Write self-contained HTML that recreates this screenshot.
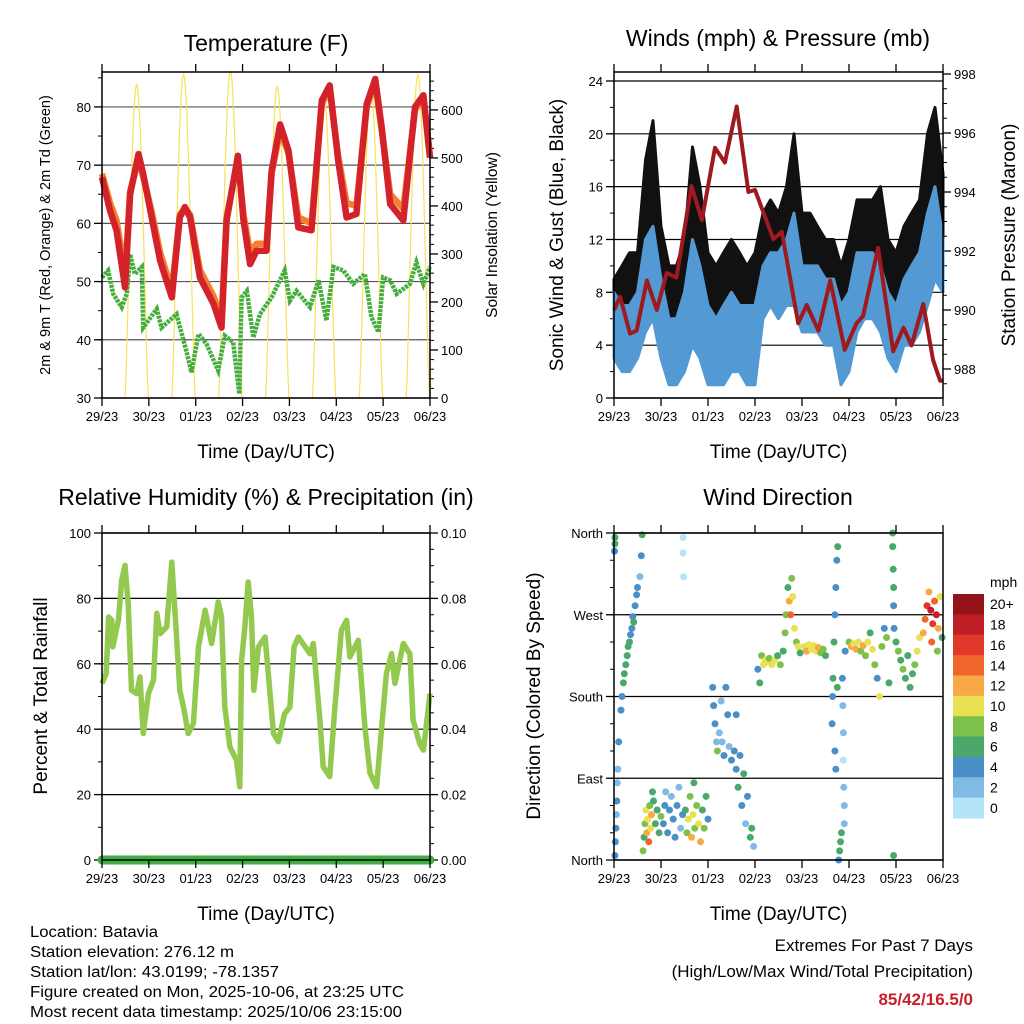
<!DOCTYPE html>
<html><head><meta charset="utf-8"><style>
html,body{margin:0;padding:0;background:#fff;}
svg{display:block;font-family:"Liberation Sans",sans-serif;}
</style></head><body>
<svg id="fig" width="1024" height="1024" viewBox="0 0 1024 1024" xmlns="http://www.w3.org/2000/svg">
<rect width="1024" height="1024" fill="#fff"/>
<g id="layer"></g>
<g font-size="15.5" fill="#000">
<text x="30" y="937" textLength="128" lengthAdjust="spacingAndGlyphs">Location: Batavia</text>
<text x="30" y="957" textLength="204" lengthAdjust="spacingAndGlyphs">Station elevation: 276.12 m</text>
<text x="30" y="977" textLength="249" lengthAdjust="spacingAndGlyphs">Station lat/lon: 43.0199; -78.1357</text>
<text x="30" y="997" textLength="374" lengthAdjust="spacingAndGlyphs">Figure created on Mon, 2025-10-06, at 23:25 UTC</text>
<text x="30" y="1017" textLength="372" lengthAdjust="spacingAndGlyphs">Most recent data timestamp: 2025/10/06 23:15:00</text>
</g>
<g text-anchor="end">
<text x="973" y="951" font-size="17">Extremes For Past 7 Days</text>
<text x="973" y="977" font-size="17">(High/Low/Max Wind/Total Precipitation)</text>
<text x="973" y="1005" font-size="17" font-weight="bold" fill="#c8202a">85/42/16.5/0</text>
</g>
</svg>
<script>
// ---------- DATA ----------
const dayLabels = ["29/23","30/23","01/23","02/23","03/23","04/23","05/23","06/23"];
// Temperature
const tempT = [0,0.17,0.31,0.46,0.49,0.6,0.78,0.88,1.06,1.24,1.49,1.66,1.77,1.88,2.09,2.38,2.55,2.66,2.9,3.02,3.16,3.3,3.51,3.62,3.8,3.98,4.19,4.47,4.69,4.86,5.04,5.22,5.43,5.65,5.83,5.97,6.15,6.43,6.68,6.86,7.0];
const temp2m = [67.9,62.2,58.8,50.7,49,65,71.9,68.5,61,53.6,47.3,61,62.8,61,50.7,46.2,42.1,60.5,71.6,60.5,53,55.3,55.3,69,77,72.5,59.3,58.8,81.1,83.7,70.8,61,61.6,80.5,84.8,76.5,63.3,60.5,80,82,71.3];
const temp9m = [68.5,63.5,60.5,53,51,65.5,71,68,62,55,48.5,61.5,62.5,61.5,52,47.5,43.5,61,70.8,61.5,55,56.5,56.5,68.5,76,72,61,60,80.5,83,71.5,63.5,63,80,84,76,65,62.5,79.5,81.5,71.5];
const dewT = [0,0.13,0.24,0.42,0.53,0.6,0.7,0.85,0.88,1.17,1.27,1.59,1.8,1.91,2.06,2.23,2.48,2.62,2.8,2.93,2.98,3.09,3.23,3.37,3.62,3.9,4.01,4.15,4.44,4.62,4.79,4.94,5.15,5.36,5.61,5.75,5.9,6.0,6.15,6.29,6.57,6.71,6.86,7.0];
const dewF = [50.7,51.9,47.9,45.6,47.9,54.7,51.3,52.5,42.1,45.3,42.1,44.4,38.1,34.4,41,39.3,34.7,40.7,39.6,30.7,47.3,48.4,40.4,44.4,47.3,51.9,46.7,48.4,45.6,50.2,43.3,52.5,51.9,49.6,51.3,43.9,41.3,50.7,50.2,47.9,49.6,53.3,49.6,52.5];
const solarPeakDay = [0,1,2,3,4,5,6];
const solarPeakWm2 = [653,674,680,649,628,643,674];
// Winds
const windT = [0,0.17,0.33,0.5,0.67,0.83,1,1.17,1.33,1.5,1.67,1.83,2,2.17,2.33,2.5,2.67,2.83,3,3.17,3.33,3.5,3.67,3.83,4,4.17,4.33,4.5,4.67,4.83,5,5.17,5.33,5.5,5.67,5.83,6,6.17,6.33,6.5,6.67,6.83,7];
const windLo = [3,2,2,3,5,6,3,1,1,2,4,3,1,1,1,2,2,1,1,6,7,6,7,7,5,5,5,4,4,1,2,5,6,6,5,3,2,4,4,5,7,9,8];
const windHi = [8,7,7,8,12,13,9,6,6,8,12,10,7,6,7,8,7,7,7,10,11,11,12,14,10,10,10,9,9,7,8,11,11,11,10,8,7,9,10,11,14,16,12];
const gustLo = [6,5,5,6,9,10,6,4,4,5,8,7,4,4,4,5,5,4,4,8,9,9,10,11,8,8,8,7,7,4,5,8,9,9,8,6,5,7,7,8,12,14,11];
const gustHi = [9,10,11,11,18,21,13,10,10,12,19,16,11,10,11,12,11,10,11,14,15,14,16,20,14,14,13,12,12,10,12,15,15,15,16,12,11,13,14,15,20,22,17];
const presT = [0,0.13,0.34,0.48,0.7,0.91,1.12,1.33,1.65,1.87,2.15,2.36,2.61,2.86,3.0,3.18,3.39,3.57,3.92,4.1,4.35,4.6,4.91,5.16,5.3,5.62,5.94,6.16,6.33,6.58,6.79,6.94,7.0];
const presMb = [990.0,990.45,989.2,989.3,991.0,990.0,991.25,991.1,994.2,993.05,995.5,995.0,996.9,994.0,994.07,993.3,992.4,992.65,989.55,990.17,989.3,991.0,988.65,989.55,989.8,992.1,988.6,989.4,988.8,990.2,988.3,987.6,987.6];
// RH
const rhT = [0,0.09,0.14,0.21,0.23,0.35,0.42,0.49,0.56,0.63,0.74,0.81,0.88,0.99,1.1,1.17,1.24,1.38,1.49,1.56,1.66,1.74,1.84,1.95,2.06,2.2,2.34,2.48,2.55,2.62,2.73,2.87,2.94,2.98,3.05,3.12,3.19,3.24,3.34,3.48,3.66,3.76,3.9,4.01,4.1,4.19,4.44,4.51,4.65,4.72,4.86,4.97,5.11,5.22,5.29,5.47,5.61,5.72,5.86,5.97,6.07,6.18,6.25,6.43,6.57,6.64,6.78,6.86,7.0];
const rhPct = [54,57,74.3,73.3,65.2,73.3,85.5,90.1,78.4,51.9,50.9,56,38.7,50.9,55,75.4,69.2,71.3,91.1,75.4,51.9,46.8,38.7,41.8,65.2,76.4,66.2,78.9,74.3,46.8,34.6,30.5,22.4,61.1,71.3,85,74.3,51.9,65.2,68.2,38.7,36.2,44.8,46.8,65.2,68.2,63.1,66.2,42.8,28.5,25.5,46.8,70.3,73.3,62.1,67.2,40.7,26.5,22.4,40.7,57,63.1,54,66.2,63.1,42.8,35.6,33.6,50.9];
const precipT = [0,7];
const precipIn = [0,0];
// Wind direction
const dirT = [0.02,0.03,0.04,0.05,0.06,0.07,0.08,0.1,0.02,0.02,0.01,
0.15,0.17,0.2,0.22,0.25,0.28,0.3,0.35,0.38,0.4,0.45,0.48,0.5,0.55,0.58,0.6,0.42,0.33,
0.62,0.64,0.66,0.68,0.7,0.72,0.74,0.76,0.78,0.8,0.84,0.88,0.92,0.96,1.0,0.82,
1.05,1.08,1.1,1.14,1.18,1.22,1.26,1.3,1.34,1.38,1.42,1.46,
1.52,1.55,1.58,1.62,1.65,1.68,1.72,1.76,1.8,1.84,1.88,1.92,1.96,2.0,1.7,
1.47,1.47,1.48,
2.1,2.12,2.15,2.18,2.2,2.24,2.28,2.3,2.34,2.38,2.42,2.45,2.5,
2.56,2.6,2.64,2.68,2.72,2.76,2.8,2.84,2.9,2.93,2.97,2.6,
3.06,3.1,3.14,3.18,3.22,3.26,3.3,3.36,3.42,3.48,3.54,3.6,3.64,
3.66,3.7,3.73,3.76,3.8,3.84,3.88,3.92,3.96,3.78,
4.05,4.1,4.15,4.2,4.25,4.3,4.35,4.4,4.45,4.5,
4.64,4.65,4.66,4.68,4.7,4.72,4.74,4.76,4.7,4.72,4.75,4.8,4.82,4.78,4.84,
4.87,4.88,4.88,4.89,4.9,4.9,4.86,4.92,
5.0,5.05,5.1,5.15,5.2,5.25,5.3,5.35,5.4,5.45,5.5,5.55,5.6,5.65,5.7,5.75,5.8,5.85,
5.93,5.93,5.94,5.95,5.95,5.96,5.95,
6.0,6.05,6.1,6.15,6.2,6.25,6.3,6.35,6.4,6.45,6.5,
6.58,6.62,6.66,6.7,6.74,6.78,6.82,6.86,6.9,6.94,6.98,6.76,6.88];
const dirDeg = [5,20,35,50,65,85,100,130,355,348,340,
165,180,195,205,215,225,235,248,255,268,280,292,300,312,335,358,262,240,
10,25,40,55,30,45,20,60,35,50,65,40,55,30,48,75,
40,60,75,30,55,70,45,25,60,80,35,50,
55,30,45,70,25,50,35,60,40,20,55,35,70,45,85,
355,338,312,
190,170,150,130,120,140,175,130,115,190,160,125,110,
120,100,80,115,60,95,40,70,25,35,15,160,
210,195,225,215,220,218,222,215,220,225,215,230,250,
270,300,285,270,290,255,240,235,228,310,
235,230,237,232,236,230,234,228,232,225,
150,180,200,240,270,300,330,345,120,100,190,10,20,0,30,
170,140,110,80,60,40,200,230,
240,235,238,232,240,230,236,225,240,250,232,215,200,180,235,255,245,195,
360,345,320,300,280,255,5,
240,230,220,210,200,225,190,205,215,230,245,
250,265,280,295,275,260,285,270,255,290,245,240,230];
const dirSpd = [4,4,4,3,4,2,3,4,6,6,4,
4,4,6,6,7,6,6,5,4,4,4,4,4,3,4,6,7,7,
8,7,9,10,12,11,14,8,10,12,6,7,6,7,8,7,
4,4,3,4,4,2,4,4,4,2,3,4,
6,8,10,8,12,10,9,8,10,12,7,8,6,4,6,
1,1,1,
4,4,4,3,8,2,2,2,4,4,4,2,4,
4,4,6,4,4,6,2,4,6,6,2,4,
4,6,8,10,10,10,8,10,10,6,8,6,8,
8,6,12,14,10,10,8,10,6,8,
10,12,10,10,11,10,12,9,8,6,
4,4,6,6,4,4,4,6,4,4,6,6,6,4,7,
2,2,1,2,2,2,4,4,
8,12,10,12,10,9,12,8,10,6,11,8,4,10,8,4,8,6,
6,6,6,6,4,4,6,
6,8,7,8,6,7,6,7,8,10,10,
12,14,16,12,18,16,14,18,12,10,6,14,8];
const cbLabels = ["0","2","4","6","8","10","12","14","16","18","20+"];
const cbColors = ["#b5e3f8","#7fbbe4","#4a8fc8","#49a86a","#7dc14a","#e8e154","#f6a944","#f0652c","#e0392a","#bf1e24","#921418"];

// ---------- HELPERS ----------
const NS = "http://www.w3.org/2000/svg";
const layer = document.getElementById("layer");
function mk(tag, attrs, parent){ const e=document.createElementNS(NS,tag); for(const k in attrs) e.setAttribute(k,attrs[k]); (parent||layer).appendChild(e); return e; }
function linScale(d0,d1,r0,r1){ return v => r0 + (v-d0)/(d1-d0)*(r1-r0); }
function pathFrom(xs, ys, fx, fy){ let d=""; for(let i=0;i<xs.length;i++){ d += (i?"L":"M")+fx(xs[i]).toFixed(1)+","+fy(ys[i]).toFixed(1); } return d; }

function frame(g, P){
  for(let i=0;i<dayLabels.length;i++){
    const x = P.x(i);
    const tb = mk("line",{x1:x,x2:x,y1:P.y1,y2:P.y1+8,stroke:"#000","stroke-width":1.3},g);
    
    
    const tt = mk("line",{x1:x,x2:x,y1:P.y0,y2:P.y0-8,stroke:"#000","stroke-width":1.3},g);
    
    
    const lb = mk("text",{x:x,y:P.y1+23,"text-anchor":"middle","font-size":13},g);
    
    
    lb.textContent = dayLabels[i];
  }
  const r = mk("rect",{x:P.x0,y:P.y0,width:P.x1-P.x0,height:P.y1-P.y0,fill:"none",stroke:"#000","stroke-width":1.5},g);
  
  
  const xl = mk("text",{x:(P.x0+P.x1)/2,y:P.y1+60,"text-anchor":"middle","font-size":19},g);
  
  
  xl.textContent = "Time (Day/UTC)";
}
function yTicks(g, P, side, vals, scale, labels, minorVals, grid, gridColor){
  const xe = side==="left"?P.x0:P.x1, dir = side==="left"?-1:1;
  if(minorVals) for(const v of minorVals){
    const y=scale(v);
    const m = mk("line",{x1:xe,x2:xe+dir*4,y1:y,y2:y,stroke:"#000","stroke-width":1},g);
    
    
  }
  vals.forEach((v,i)=>{
    const y=scale(v);
    if(grid){
      const gl = mk("line",{x1:P.x0,x2:P.x1,y1:y,y2:y,stroke:gridColor||"#000","stroke-width":1.2},g);
      
      
    }
    const t = mk("line",{x1:xe,x2:xe+dir*8,y1:y,y2:y,stroke:"#000","stroke-width":1.3},g);
    
    
    const tx = mk("text",{x:xe+dir*11,y:y+5,"text-anchor":side==="left"?"end":"start","font-size":13},g);
    
    
    tx.textContent = labels[i];
  });
}
function rotLabel(g, x, y, txt, size, name){
  const t = mk("text",{x:x,y:y,"text-anchor":"middle","font-size":size,transform:`rotate(-90 ${x} ${y})`},g);
  
  
  t.textContent = txt;
}
function title(g, x, y, txt, name){
  const t = mk("text",{x:x,y:y,"text-anchor":"middle","font-size":23},g);
  
  
  t.textContent = txt;
}
function range(a,b,s){ const r=[]; for(let v=a; v<=b+1e-9; v+=s) r.push(+v.toFixed(4)); return r; }

// ---------- PANEL 1: TEMPERATURE ----------
(function(){
  const P = {x0:102,x1:430,y0:72,y1:398};
  P.x = linScale(0,7,P.x0,P.x1);
  const yT = linScale(30,86,P.y1,P.y0);
  const yS = linScale(0,679,P.y1,P.y0);
  const g = mk("g",{});  
  title(g,266,51,"Temperature (F)","temperature-title");
  yTicks(g,P,"left",[30,40,50,60,70,80],yT,["30","40","50","60","70","80"],range(30,86,5),true,"#555");
  yTicks(g,P,"right",[0,100,200,300,400,500,600],yS,["0","100","200","300","400","500","600"],range(0,679,20),false);
  const sg = mk("g",{},g);  
  solarPeakDay.forEach((d,i)=>{
    let pts="";
    for(let k=0;k<=30;k++){
      const t = d+0.49+k*(0.5/30);
      const v = solarPeakWm2[i]*Math.pow(Math.sin(Math.PI*k/30),1.3);
      if(t>7) break;
      pts += (k?"L":"M")+P.x(t).toFixed(1)+","+yS(v).toFixed(1);
    }
    const p = mk("path",{d:pts,fill:"none",stroke:"#f7e25a","stroke-width":1.2},sg);
    
    
  });
  const dw = mk("path",{d:pathFrom(dewT,dewF,P.x,yT),fill:"none",stroke:"#45ad3c","stroke-width":4.5,"stroke-dasharray":"3 1"},g);
   
  const o = mk("path",{d:pathFrom(tempT,temp9m,P.x,yT),fill:"none",stroke:"#f47f2e","stroke-width":6.5,"stroke-linejoin":"round"},g);
   
  const r = mk("path",{d:pathFrom(tempT,temp2m,P.x,yT),fill:"none",stroke:"#d3222a","stroke-width":6.5,"stroke-linejoin":"round"},g);
   
  frame(g,P);
  rotLabel(g,50,235,"2m & 9m T (Red, Orange) & 2m Td (Green)",14.5,"temperature-y-title");
  rotLabel(g,497,235,"Solar Insolation (Yellow)",15.5,"solar-y-title");
})();

// ---------- PANEL 2: WINDS ----------
(function(){
  const P = {x0:614,x1:943,y0:72,y1:398};
  P.x = linScale(0,7,P.x0,P.x1);
  const yW = linScale(0,24.68,P.y1,P.y0);
  const yP = linScale(988,998,369,74);
  const g = mk("g",{});  
  title(g,778,46,"Winds (mph) & Pressure (mb)","winds-title");
  yTicks(g,P,"left",[0,4,8,12,16,20,24],yW,["0","4","8","12","16","20","24"],range(0,24,2),true,"#000");
  yTicks(g,P,"right",[988,990,992,994,996,998],yP,["988","990","992","994","996","998"],range(987.5,998,0.5),false);
  function band(lo,hi,fill,name){
    let d="M"; for(let i=0;i<windT.length;i++) d+=(i?"L":"")+P.x(windT[i]).toFixed(1)+","+yW(hi[i]).toFixed(1);
    for(let i=windT.length-1;i>=0;i--) d+="L"+P.x(windT[i]).toFixed(1)+","+yW(lo[i]).toFixed(1);
    const p = mk("path",{d:d+"Z",fill:fill,stroke:fill,"stroke-width":3,"stroke-linejoin":"round"},g);
     
  }
  band(gustLo,gustHi,"#111","gust-band");
  band(windLo,windHi,"#539ad4","wind-band");
  const p = mk("path",{d:pathFrom(presT,presMb,P.x,yP),fill:"none",stroke:"#9e1a1e","stroke-width":4,"stroke-linejoin":"round"},g);
   
  frame(g,P);
  rotLabel(g,563,235,"Sonic Wind & Gust (Blue, Black)",19,"wind-y-title");
  rotLabel(g,1015,235,"Station Pressure (Maroon)",19,"pressure-y-title");
})();

// ---------- PANEL 3: RH ----------
(function(){
  const P = {x0:102,x1:430,y0:533,y1:860};
  P.x = linScale(0,7,P.x0,P.x1);
  const yR = linScale(0,100,P.y1,P.y0);
  const yPr = linScale(0,0.1,P.y1,P.y0);
  const g = mk("g",{});  
  title(g,266,505,"Relative Humidity (%) & Precipitation (in)","humidity-title");
  yTicks(g,P,"left",[0,20,40,60,80,100],yR,["0","20","40","60","80","100"],range(0,100,10),true,"#000");
  yTicks(g,P,"right",[0,0.02,0.04,0.06,0.08,0.1],yPr,["0.00","0.02","0.04","0.06","0.08","0.10"],range(0,0.1,0.005),false);
  const r = mk("path",{d:pathFrom(rhT,rhPct,P.x,yR),fill:"none",stroke:"#92c94e","stroke-width":5.5,"stroke-linejoin":"round"},g);
   
  const pr = mk("path",{d:pathFrom(precipT,precipIn,P.x,yPr),fill:"none",stroke:"#3fae42","stroke-width":9,"stroke-linecap":"round"},g);
   
  frame(g,P);
  rotLabel(g,47,696,"Percent & Total Rainfall",19,"humidity-y-title");
})();

// ---------- PANEL 4: WIND DIRECTION ----------
(function(){
  const P = {x0:614,x1:943,y0:533,y1:860};
  P.x = linScale(0,7,P.x0,P.x1);
  const yD = linScale(0,360,P.y1,P.y0);
  const g = mk("g",{});  
  title(g,778,505,"Wind Direction","direction-title");
  yTicks(g,P,"left",[0,90,180,270,360],yD,["North","East","South","West","North"],range(0,360,30),true,"#000");
  const pg = mk("g",{},g);  
  for(let i=0;i<dirT.length;i++){
    const b = Math.min(10, Math.floor(dirSpd[i]/2));
    const c = mk("circle",{cx:P.x(dirT[i]).toFixed(1),cy:yD(dirDeg[i]).toFixed(1),r:3.5,fill:cbColors[b]},pg);
    
    
  }
  frame(g,P);
  rotLabel(g,540,696,"Direction (Colored By Speed)",19,"direction-y-title");
  const cb = mk("g",{},g);  
  const top=594, h=224/11;
  const mph = mk("text",{x:990,y:587,"font-size":14},cb);
   
  mph.textContent="mph";
  for(let i=0;i<cbColors.length;i++){
    const k = cbColors.length-1-i;
    const rc = mk("rect",{x:953,y:(top+i*h).toFixed(1),width:31,height:(h+0.5).toFixed(1),fill:cbColors[k]},cb);
     
    const tx = mk("text",{x:990,y:(top+i*h+h/2+5).toFixed(1),"font-size":14},cb);
     
    tx.textContent = cbLabels[k];
  }
})();
</script>
</body></html>
